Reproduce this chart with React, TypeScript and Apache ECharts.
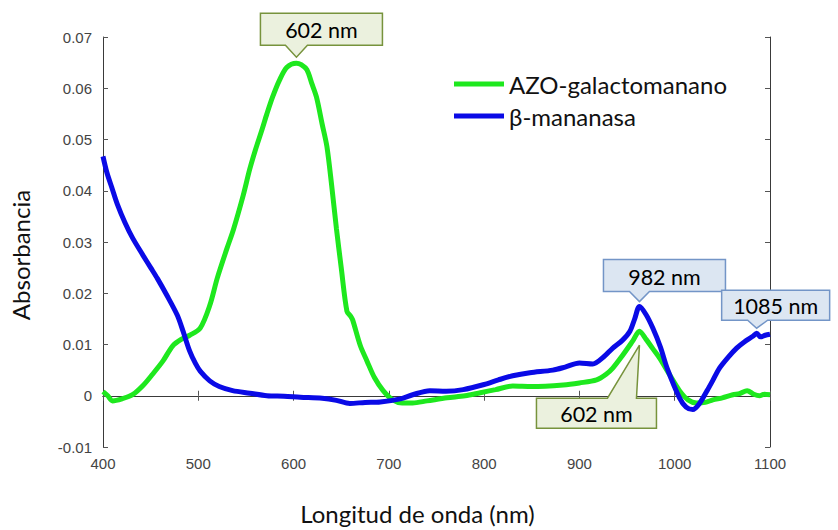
import React, { useEffect, useRef } from "react";
import * as echarts from "echarts";

// AZO-galactomanano (green)
const greenWl = [400, 405, 410, 420, 431, 442, 452, 463, 473, 482, 491, 502, 512, 520, 530, 537, 547, 554, 560, 567, 572, 578, 585, 593, 603, 608, 614, 619, 624, 630, 635, 640, 645, 650, 656, 660, 662, 670, 677, 685, 694, 704, 714, 725, 740, 761, 780, 796, 812, 830, 850, 883, 900, 918, 928, 935, 945, 956, 963, 970, 977, 984, 995, 1005, 1014, 1023, 1032, 1040, 1050, 1061, 1068, 1076, 1083, 1089, 1094, 1100];
const greenAbs = [0.0008, 0.0, -0.001, -0.0006, 0.0002, 0.002, 0.0042, 0.0068, 0.0097, 0.011, 0.0118, 0.0132, 0.0176, 0.023, 0.0287, 0.0325, 0.039, 0.0442, 0.048, 0.052, 0.055, 0.0583, 0.0615, 0.0641, 0.0649, 0.0646, 0.0636, 0.061, 0.0583, 0.053, 0.0486, 0.041, 0.0326, 0.025, 0.0165, 0.0155, 0.0148, 0.0098, 0.0068, 0.0035, 0.001, -0.0008, -0.0014, -0.0014, -0.001, -0.0004, 0.0, 0.0006, 0.0012, 0.0019, 0.0018, 0.0021, 0.0025, 0.0031, 0.0042, 0.0054, 0.0078, 0.0107, 0.0126, 0.011, 0.0092, 0.0074, 0.004, 0.001, -0.0008, -0.0014, -0.0013, -0.0008, -0.0004, 0.0002, 0.0004, 0.001, 0.0003, 0.0, 0.0003, 0.0002];

// β-mananasa (blue)
const blueWl = [400, 404, 410, 415, 423, 431, 442, 450, 457, 467, 478, 484, 491, 497, 502, 512, 522, 536, 554, 572, 590, 607, 630, 645, 659, 675, 691, 712, 725, 743, 760, 778, 800, 815, 830, 848, 872, 885, 900, 914, 925, 935, 945, 953, 958, 963, 970, 977, 985, 992, 1005, 1012, 1019, 1026, 1034, 1040, 1047, 1056, 1065, 1073, 1082, 1086, 1090, 1095, 1100];
const blueAbs = [0.0467, 0.0436, 0.0402, 0.0374, 0.0338, 0.0308, 0.0274, 0.025, 0.0229, 0.0196, 0.0157, 0.0126, 0.0087, 0.0063, 0.0048, 0.0029, 0.0018, 0.001, 0.0005, 0.0, -0.0001, -0.0003, -0.0005, -0.0009, -0.0015, -0.0013, -0.0012, -0.0006, 0.0002, 0.001, 0.0009, 0.0012, 0.0022, 0.0031, 0.0039, 0.0045, 0.005, 0.0056, 0.0064, 0.0062, 0.0075, 0.0093, 0.0108, 0.0126, 0.015, 0.0174, 0.0158, 0.0132, 0.0095, 0.0054, -0.0004, -0.0022, -0.0027, -0.0015, 0.001, 0.003, 0.0054, 0.0075, 0.0093, 0.0105, 0.0116, 0.0122, 0.0115, 0.0118, 0.012];

const seriesNames = ["AZO-galactomanano", "β-mananasa"];
const xTicks = [400, 500, 600, 700, 800, 900, 1000, 1100];

// Callout annotations: label text and the data point they point at
const calloutTexts = ["602 nm", "982 nm", "1085 nm", "602 nm"];
const calloutAnchors: [number, number][] = [
  [603, 0.0649],
  [963, 0.0174],
  [1086, 0.0122],
  [963, 0.0126],
];
const calloutKinds = ["green", "blue", "blue", "green"];

const FONT = "Lato, 'Noto Sans', sans-serif";
const TICK_FONT = "'Liberation Sans', Arial, sans-serif";

export default function App() {
  const ref = useRef<HTMLDivElement>(null);
  useEffect(() => {
    if (!ref.current) return;
    const chart = echarts.init(ref.current, null, { renderer: "svg" });
    const pair = (xs: number[], ys: number[]) => xs.map((x, i) => [x, ys[i]]);
    const axisLine = { show: true, lineStyle: { color: "#3a3a3a", width: 1 } };
    chart.setOption({
      animation: false,
      backgroundColor: "#ffffff",
      grid: { left: 103, right: 68, top: 37, bottom: 79, containLabel: false },
      legend: {
        orient: "vertical",
        left: 449,
        top: 67,
        itemWidth: 50,
        itemHeight: 5,
        itemGap: 8,
        icon: "rect",
        textStyle: { fontFamily: FONT, fontSize: 24, color: "#111" },
        data: seriesNames,
      },
      xAxis: [
        {
          type: "value",
          min: 400,
          max: 1100,
          interval: 100,
          position: "bottom",
          axisLine,
          axisTick: { show: true, inside: true, length: 5, lineStyle: { color: "#555" } },
          splitLine: { show: false },
          axisLabel: {
            color: "#444",
            fontFamily: TICK_FONT,
            fontSize: 15,
            margin: 9,
            formatter: (v: number) => (xTicks.includes(v) ? String(v) : ""),
          },
          name: "Longitud de onda (nm)",
          nameLocation: "middle",
          nameGap: 54,
          nameTextStyle: { fontFamily: FONT, fontSize: 24, color: "#111", padding: [0, 38, 0, 0] },
        },
        {
          type: "value",
          min: 400,
          max: 1100,
          interval: 100,
          position: "top",
          axisLine,
          axisTick: { show: true, inside: true, length: 5, lineStyle: { color: "#555" } },
          axisLabel: { show: false },
          splitLine: { show: false },
        },
      ],
      yAxis: [
        {
          type: "value",
          min: -0.01,
          max: 0.07,
          interval: 0.01,
          position: "left",
          axisLine,
          axisTick: { show: true, inside: true, length: 5, lineStyle: { color: "#555" } },
          splitLine: { show: false },
          axisLabel: {
            color: "#444",
            fontFamily: TICK_FONT,
            fontSize: 15,
            margin: 11,
            formatter: (v: number) => (Math.abs(v) < 1e-9 ? "0" : v.toFixed(2)),
          },
          name: "Absorbancia",
          nameLocation: "middle",
          nameGap: 71,
          nameTextStyle: { fontFamily: FONT, fontSize: 24, color: "#111", padding: [0, 26, 0, 0] },
        },
        {
          type: "value",
          min: -0.01,
          max: 0.07,
          interval: 0.01,
          position: "right",
          axisLine,
          axisTick: { show: true, inside: true, length: 5, lineStyle: { color: "#555" } },
          axisLabel: { show: false },
          splitLine: { show: false },
        },
      ],
      series: [
        {
          name: seriesNames[0],
          type: "line",
          data: pair(greenWl, greenAbs),
          showSymbol: false,
          smooth: 0.3,
          lineStyle: { color: "#1ee81e", width: 5 },
          itemStyle: { color: "#1ee81e" },
          z: 2,
        },
        {
          name: seriesNames[1],
          type: "line",
          data: pair(blueWl, blueAbs),
          showSymbol: false,
          smooth: 0.3,
          lineStyle: { color: "#0a0ae6", width: 5 },
          itemStyle: { color: "#0a0ae6" },
          z: 3,
        },
      ],
    });

    // Callout geometry relative to the anchor point (pixels)
    const shapes = [
      { side: "down", tipDy: -6, left: -36, width: 122, height: 32, gap: 12, n1: -11, n2: 11 },
      { side: "down", tipDy: -5, left: -36, width: 122, height: 32, gap: 10, n1: -10, n2: 10 },
      { side: "down", tipDy: -5, left: -35, width: 108, height: 30, gap: 8, n1: -9, n2: 11 },
      { side: "up", tipDy: 14, left: -103, width: 120, height: 30, gap: 53, n1: -32, n2: -3 },
    ];
    const colors: Record<string, { fill: string; stroke: string }> = {
      green: { fill: "#ebf1de", stroke: "#77933c" },
      blue: { fill: "#dce6f2", stroke: "#7395c7" },
    };
    const elements: any[] = [];
    calloutAnchors.forEach((a, i) => {
      const p = chart.convertToPixel({ xAxisIndex: 0, yAxisIndex: 0 }, a) as number[];
      const s = shapes[i];
      const tx = p[0];
      const ty = p[1] + s.tipDy;
      const x0 = tx + s.left;
      const x1 = x0 + s.width;
      let pts: number[][];
      let y0: number, y1: number;
      if (s.side === "down") {
        y1 = ty - s.gap;
        y0 = y1 - s.height;
        pts = [[x0, y0], [x1, y0], [x1, y1], [tx + s.n2, y1], [tx, ty], [tx + s.n1, y1], [x0, y1]];
      } else {
        y0 = ty + s.gap;
        y1 = y0 + s.height;
        pts = [[x0, y0], [tx + s.n1, y0], [tx, ty], [tx + s.n2, y0], [x1, y0], [x1, y1], [x0, y1]];
      }
      const c = colors[calloutKinds[i]];
      elements.push({
        type: "polygon",
        z: 100,
        shape: { points: pts },
        style: { fill: c.fill, stroke: c.stroke, lineWidth: 1.5 },
      });
      elements.push({
        type: "text",
        z: 101,
        x: (x0 + x1) / 2,
        y: (y0 + y1) / 2 + 1,
        style: {
          text: calloutTexts[i],
          fill: "#000",
          fontFamily: FONT,
          fontSize: 21.5,
          align: "center",
          verticalAlign: "middle",
        },
      });
    });
    chart.setOption({ graphic: elements });
    return () => chart.dispose();
  }, []);
  return (
    <div
      ref={ref}
      style={{ position: "fixed", left: 0, top: 0, width: 838, height: 530, background: "#fff" }}
    />
  );
}
